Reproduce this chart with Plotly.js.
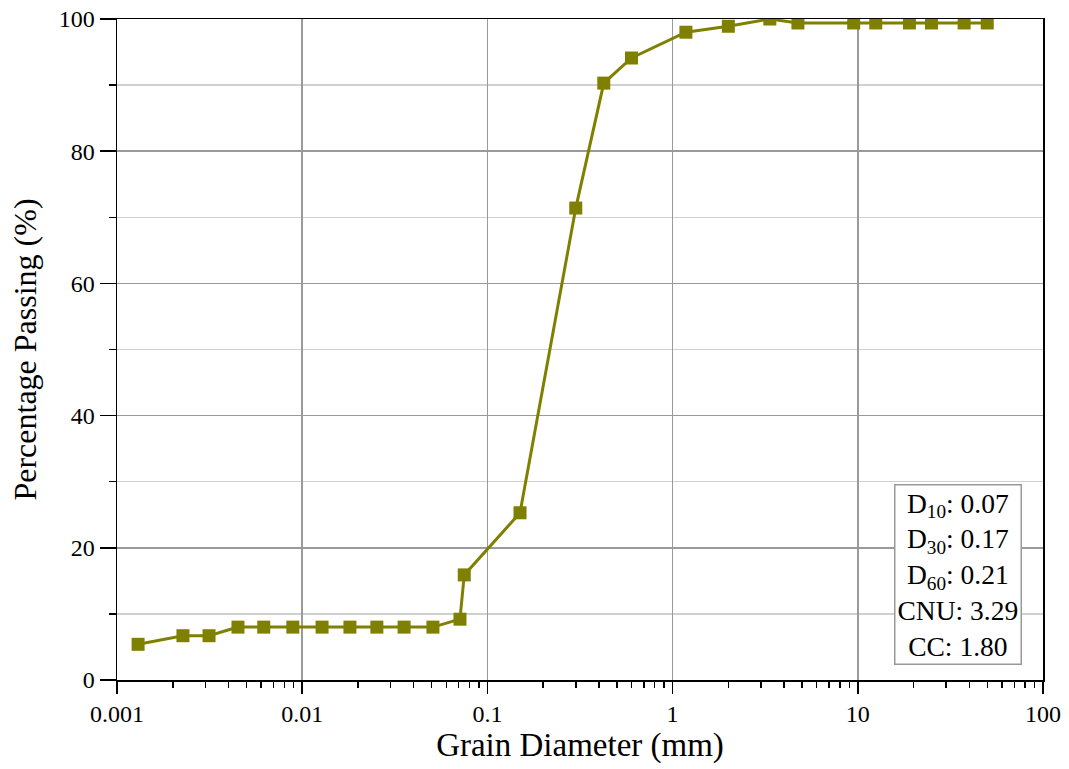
<!DOCTYPE html>
<html>
<head>
<meta charset="utf-8">
<script src="https://cdn.plot.ly/plotly-3.0.1.min.js"></script>
<style>html,body{margin:0;padding:0;background:#fff;}#chart{width:1069px;height:769px;}</style>
</head>
<body>
<div id="chart"></div>
<script>
// Grain diameter (mm)
var grainDiameter = [0.0013, 0.00227, 0.00314, 0.0045, 0.0062, 0.0089, 0.0128, 0.0181, 0.0253, 0.0355, 0.0508, 0.0711,
  0.075, 0.15, 0.3, 0.425, 0.6, 1.18, 2.0, 3.35, 4.75, 9.5, 12.5, 19, 25, 37.5, 50];
// Percentage passing (%)
var percentPassing = [5.4, 6.7, 6.7, 8.0, 8.0, 8.0, 8.0, 8.0, 8.0, 8.0, 8.0, 9.2,
  15.9, 25.3, 71.4, 90.3, 94.1, 98.0, 98.9, 100, 99.4, 99.4, 99.4, 99.4, 99.4, 99.4, 99.4];
var xTickVals = [0.001, 0.01, 0.1, 1, 10, 100];
var xTickText = ['0.001', '0.01', '0.1', '1', '10', '100'];
var xMinorVals = [0.002,0.003,0.004,0.005,0.006,0.007,0.008,0.009,0.02,0.03,0.04,0.05,0.06,0.07,0.08,0.09,
  0.2,0.3,0.4,0.5,0.6,0.7,0.8,0.9,2,3,4,5,6,7,8,9,20,30,40,50,60,70,80,90];
var yTickVals = [0, 20, 40, 60, 80, 100];
var yMinorVals = [10, 30, 50, 70, 90];
var statsText = 'D<sub>10</sub>: 0.07<br>D<sub>30</sub>: 0.17<br>D<sub>60</sub>: 0.21<br>CNU: 3.29<br>CC: 1.80';

var serif = 'Liberation Serif, Times New Roman, serif';
var trace = {
  x: grainDiameter, y: percentPassing, type: 'scatter', mode: 'lines+markers',
  line: {color: '#808000', width: 3},
  marker: {symbol: 'square', size: 13, color: '#808000'},
  showlegend: false
};
var layout = {
  width: 1069, height: 769,
  margin: {l: 117, r: 26, t: 19, b: 89},
  paper_bgcolor: '#fff', plot_bgcolor: '#fff',
  font: {family: serif, color: '#000'},
  xaxis: {
    type: 'log', range: [-3, 2], automargin: false,
    tickvals: xTickVals, ticktext: xTickText,
    ticks: 'outside', ticklen: 12, tickwidth: 1.5, tickcolor: '#000',
    showline: true, linecolor: '#000', linewidth: 1.5, mirror: true,
    showgrid: true, gridcolor: '#9a9a9a', gridwidth: 1.5,
    zeroline: false,
    tickfont: {family: serif, size: 24, color: '#000'},
    minor: {ticks: 'outside', ticklen: 6, tickcolor: '#000', tickwidth: 1.5, showgrid: false, tickvals: xMinorVals},
    title: {text: 'Grain Diameter (mm)', font: {family: serif, size: 33, color: '#000'}, standoff: 4}
  },
  yaxis: {
    range: [0, 100], tickvals: yTickVals, automargin: false,
    ticks: 'outside', ticklen: 16, tickwidth: 1.5, tickcolor: '#000',
    showline: true, linecolor: '#000', linewidth: 1.5, mirror: true,
    showgrid: true, gridcolor: '#9a9a9a', gridwidth: 1.5,
    zeroline: false,
    tickfont: {family: serif, size: 24, color: '#000'},
    minor: {tickvals: yMinorVals, ticks: 'outside', ticklen: 7, tickcolor: '#000', tickwidth: 1.5,
            showgrid: true, gridcolor: '#d0d0d0', gridwidth: 1.5},
    title: {text: 'Percentage Passing (%)', font: {family: serif, size: 32, color: '#000'}, standoff: 12}
  },
  annotations: [{
    xref: 'paper', yref: 'paper', x: 0.977, y: 0.023, xanchor: 'right', yanchor: 'bottom',
    text: statsText, showarrow: false, align: 'center',
    font: {family: serif, size: 27.5, color: '#000'},
    bgcolor: '#fff', bordercolor: '#999', borderwidth: 1.5, borderpad: 2
  }]
};
Plotly.newPlot('chart', [trace], layout, {displayModeBar: false, staticPlot: true});
</script>
</body>
</html>
